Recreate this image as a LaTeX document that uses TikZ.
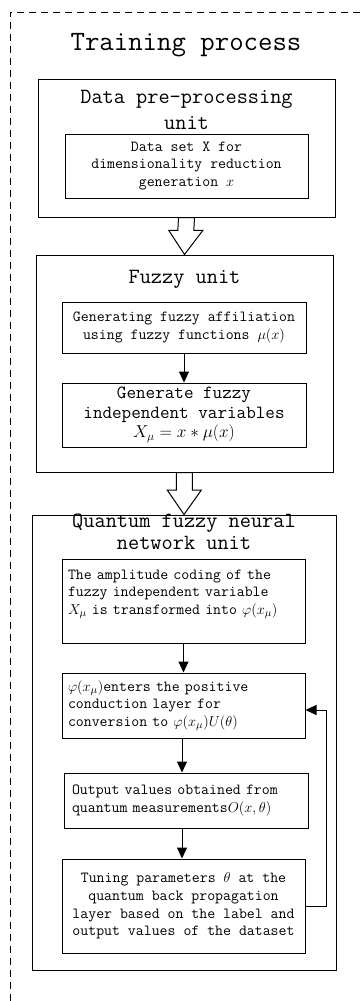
\documentclass[tikz,border=0pt]{standalone}
\renewcommand\familydefault{\ttdefault}
\usetikzlibrary{calc,arrows.meta}
\newcommand\titlefont{\fontsize{28}{32}\selectfont}
\newcommand\unitfont{\fontsize{21.7}{26}\selectfont}
\newcommand\genfont{\fontsize{18.6}{19.5}\selectfont}
\newcommand\stepfont{\fontsize{15.4}{17.6}\selectfont}
\def\hollowarrow(#1)(#2)(#3){\draw[hollow] ($(#1)+(-8,0)$) -- ($(#1)!#3!(#2)+(-8,0)$) -- ($(#1)!#3!(#2)+(-17,0)$) -- (#2) -- ($(#1)!#3!(#2)+(17,0)$) -- ($(#1)!#3!(#2)+(8,0)$) -- ($(#1)+(8,0)$) -- cycle;}

\begin{document}
\begin{tikzpicture}[x=1pt, y=-1pt,
	unit/.style={draw, line width=1pt, inner sep=0pt},
	stepbox/.style={draw, line width=1pt, inner sep=0pt, font=\stepfont, align=center},
	steptext/.style={inner sep=0pt, font=\stepfont, align=left},
	flow/.style={-{Triangle[length=11pt,width=10pt]}, line width=1pt},
	hollow/.style={line width=1pt, fill=white},
	frame/.style={line width=0.9pt, dash pattern=on 7pt off 5pt}]
			%%%%% START %%%%%
			
			\useasboundingbox (0,0) rectangle (361,1001);
			\draw[frame] (10,1001) -- (10,12) -- (361,12);
			
			\node[font=\titlefont] (title) at (186,45) {Training process};
			
			% data pre-processing
			\node[unit, minimum width=297, minimum height=138] (pre) at (186.5,148) {};
			\node[font=\unitfont, align=center] (pretitle) at (186.5,110) {Data pre-processing\\unit};
			\node[stepbox, minimum width=243, minimum height=64] (data) at (186.5,166) {Data set X for\\dimensionality reduction\\generation $x$};
			
			% fuzzy unit
			\node[unit, minimum width=297, minimum height=217] (fuzzy) at (184.5,363.5) {};
			\node[font=\unitfont] (fuzzytitle) at (184.5,279) {Fuzzy unit};
			\node[stepbox, minimum width=244, minimum height=51] (affil) at (184,327.5) {Generating fuzzy affiliation\\using fuzzy functions $\mu(x)$};
			\node[stepbox, font=\genfont, minimum width=244, minimum height=64] (gen) at (184,415) {Generate fuzzy\\independent variables\\$X_\mu = x*\mu(x)$};
			\draw[flow] (affil) -- (gen);
			
			% quantum fuzzy neural network unit
			\node[unit, minimum width=304, minimum height=455] (qfnn) at (184,742.5) {};
			\node[font=\unitfont, align=center, text depth=0pt] (qfnntitle) at (184,532) {Quantum fuzzy neural\\[-4pt]network unit};
			\node[unit, minimum width=243, minimum height=84] (ampl) at (183.5,601) {};
			\node[steptext, text width=231] (ampltext) at (183.5,594) {The amplitude coding of the\\fuzzy independent variable\\$X_\mu$ is transformed into $\varphi(x_\mu)$};
			\node[stepbox, align=left, text width=231, minimum width=243, minimum height=65] (conv) at (183.5,705.5) {$\varphi(x_\mu)$enters the positive\\conduction layer for\\conversion to $\varphi(x_\mu)U(\theta)$};
			\node[stepbox, align=left, text width=228, minimum width=244, minimum height=55] (meas) at (186,800.5) {Output values obtained from\\quantum measurements$O(x,\theta)$};
			\node[stepbox, minimum width=243, minimum height=94] (tune) at (183.5,906) {Tuning parameters $\theta$ at the\\quantum back propagation\\layer based on the label and\\output values of the dataset};
			
			\draw[flow] (ampl) -- (conv);
			\draw[flow] ($(conv.south)+(-1.5,0)$) -- ($(conv.south |- meas.north)+(-1.5,0)$);
			\draw[flow] ($(conv.south |- meas.south)+(-1.5,0)$) -- ($(conv.south |- tune.north)+(-1.5,0)$);
			\draw[flow] (tune.east) -- ++(21,0) |- ($(conv.east)+(0,4.5)$);
			
			% hollow arrows between units
			\hollowarrow(pre.south)(fuzzy.north)(0.35)
			\hollowarrow(fuzzy.south)(qfnn.north)(0.42)
			
			%%%%% END %%%%%
		\end{tikzpicture}
\end{document}
